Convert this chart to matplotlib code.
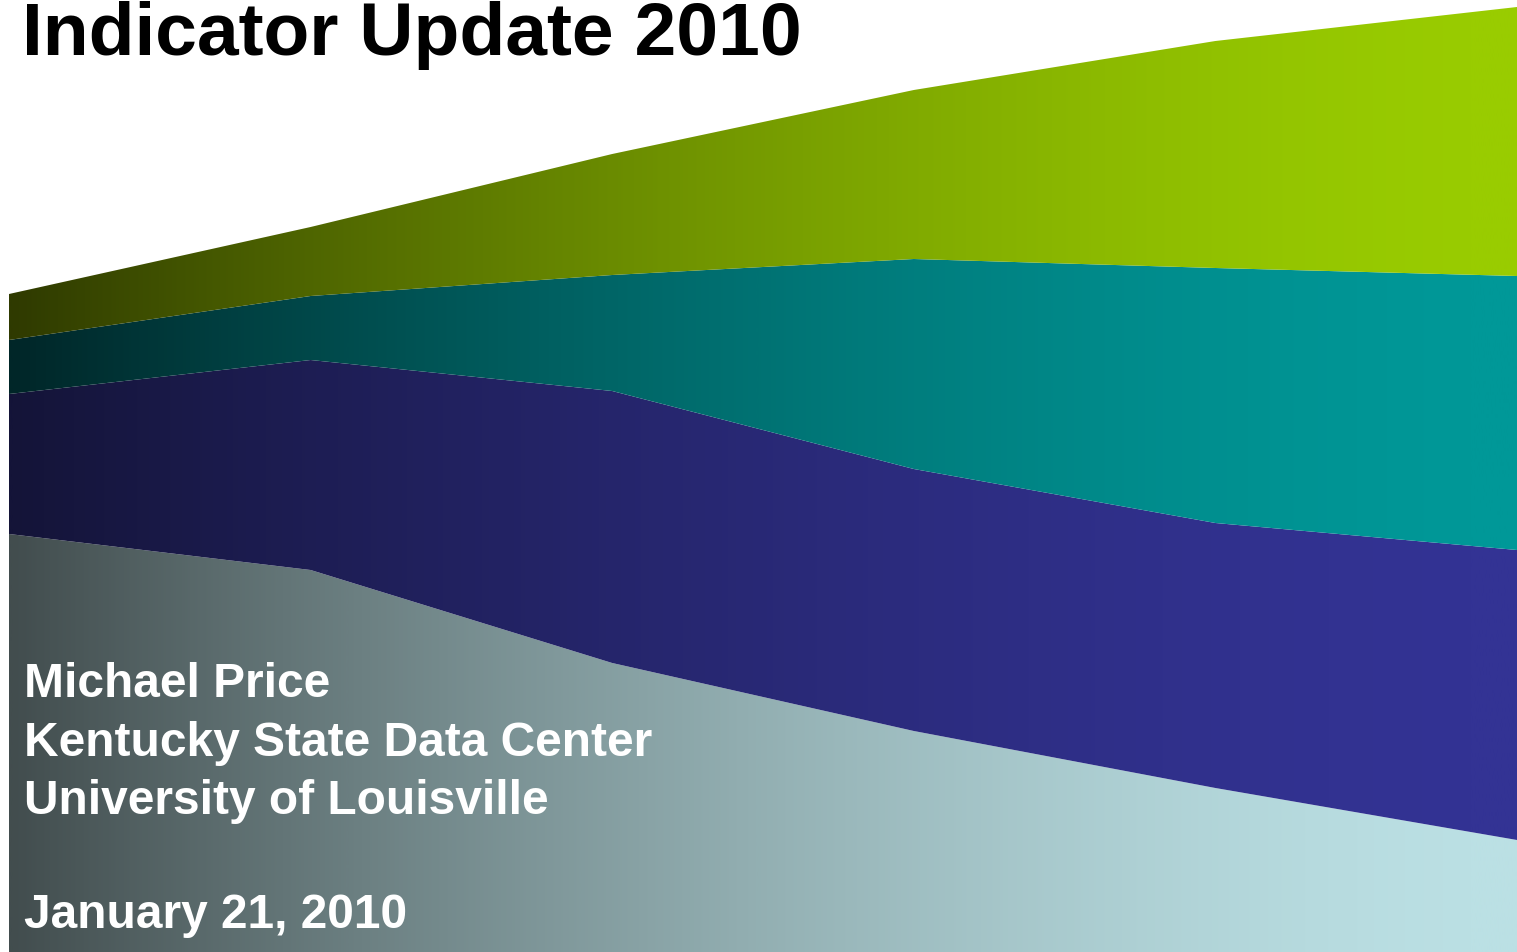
import matplotlib.pyplot as plt
import numpy as np
from matplotlib.colors import LinearSegmentedColormap

# Stacked area layers (bottom to top)
periods = [0, 1, 2, 3, 4, 5]
base_layer = [41.8, 38.2, 28.9, 22.1, 16.4, 11.2]
navy_layer = [14.0, 21.0, 27.2, 26.2, 26.5, 29.0]
teal_layer = [5.4, 6.4, 11.6, 21.0, 25.5, 27.4]
green_layer = [4.6, 6.9, 12.1, 16.9, 22.7, 26.9]

layers = [base_layer, navy_layer, teal_layer, green_layer]
# left -> right gradient colours for each layer
gradients = [
    ('#424d4e', '#bbe0e4'),
    ('#141438', '#333394'),
    ('#002628', '#009898'),
    ('#2f3a00', '#99cc00'),
]

title = "Indicator Update 2010"
author_lines = ["Michael Price", "Kentucky State Data Center", "University of Louisville"]
date_line = "January 21, 2010"

W, H, DPI = 1517, 953, 100
fig = plt.figure(figsize=(W / DPI, H / DPI), dpi=DPI)
ax = fig.add_axes([9 / W, 0, 1 - 9 / W, 1])
ymax = H / 10
ax.set_xlim(periods[0], periods[-1])
ax.set_ylim(0, ymax)
ax.axis('off')

# eased gradient: brightens fast, then levels off toward the right edge
t = np.linspace(0, 1, 512)
ramp = (1 - (1 - t) ** 1.6).reshape(1, -1)

lower = np.zeros(len(periods))
for values, (c_left, c_right) in zip(layers, gradients):
    upper = lower + np.array(values)
    poly = ax.fill_between(periods, lower, upper, facecolor='none', linewidth=0)
    cmap = LinearSegmentedColormap.from_list('grad', [c_left, c_right])
    im = ax.imshow(ramp, cmap=cmap, vmin=0, vmax=1, aspect='auto', origin='lower',
                   extent=[periods[0], periods[-1], 0, ymax], interpolation='bilinear')
    im.set_clip_path(poly.get_paths()[0], transform=ax.transData)
    lower = upper

font = ['Liberation Sans', 'DejaVu Sans']
fig.text(22 / W, 1 - 55 / H, title, fontsize=54, fontweight='bold',
         color='black', family=font, va='baseline', ha='left')

for i, line in enumerate(author_lines):
    fig.text(24 / W, 1 - (697 + 58.5 * i) / H, line, fontsize=34.5, fontweight='bold',
             color='white', family=font, va='baseline', ha='left')
fig.text(24 / W, 1 - 928 / H, date_line, fontsize=34.5, fontweight='bold',
         color='white', family=font, va='baseline', ha='left')

fig.savefig('out.png', dpi=DPI)
